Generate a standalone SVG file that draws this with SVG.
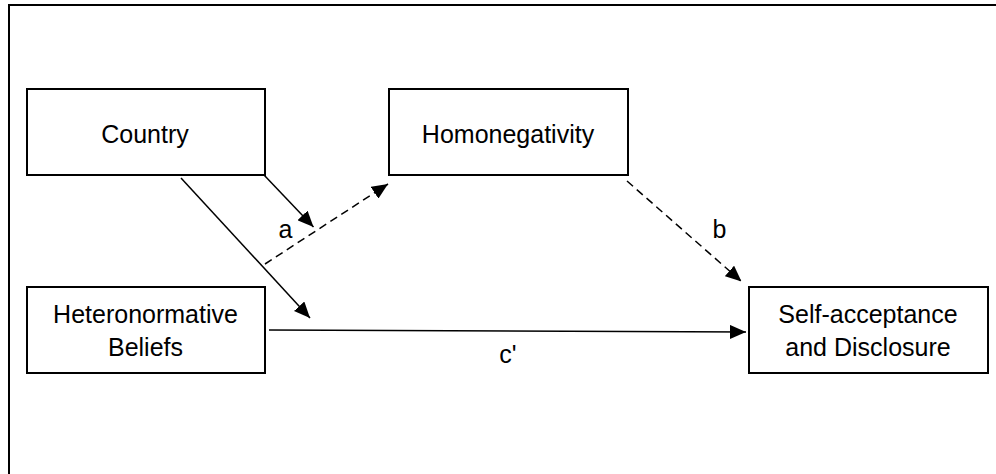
<svg xmlns="http://www.w3.org/2000/svg" width="996" height="474" viewBox="0 0 996 474">
<defs>
<style>
.box{fill:#fff;stroke:#000;stroke-width:2}
.t{font-family:"Liberation Sans",Arial,sans-serif;font-size:25px;fill:#000;text-anchor:middle}
.c{fill:none;stroke:#000;stroke-width:1.5}
.d{stroke-dasharray:8,5}
</style>
<marker id="ah" viewBox="0 0 16 14" refX="16" refY="7" markerWidth="16" markerHeight="14" markerUnits="userSpaceOnUse" orient="auto">
<path d="M0,0 L16,7 L0,14 z" fill="#000"/>
</marker>
</defs>
<rect width="996" height="474" fill="#fff"/>
<path d="M9,474 V5 H996" fill="none" stroke="#000" stroke-width="2"/>
<g id="connectors">
<line class="c" x1="264" y1="175" x2="313.5" y2="227" marker-end="url(#ah)"/>
<line class="c d" x1="265" y1="264" x2="388" y2="184" marker-end="url(#ah)"/>
<line class="c" x1="181" y1="178" x2="310" y2="318" marker-end="url(#ah)"/>
<line class="c" x1="269" y1="330" x2="746" y2="332" marker-end="url(#ah)"/>
<line class="c d" x1="627" y1="181" x2="741.5" y2="281.5" marker-end="url(#ah)"/>
<text class="t" x="285.5" y="237.5">a</text>
<text class="t" x="719.5" y="237.5">b</text>
<text class="t" x="508" y="363">c'</text>
</g>
<g id="country">
<rect class="box" x="27" y="89" width="238" height="86"/>
<text class="t" x="145" y="142.5">Country</text>
</g>
<g id="homonegativity">
<rect class="box" x="389" y="89" width="239" height="86"/>
<text class="t" x="508" y="142.5">Homonegativity</text>
</g>
<g id="heteronormative">
<rect class="box" x="27" y="287" width="238" height="86"/>
<text class="t" x="145.5" y="322.5">Heteronormative</text>
<text class="t" x="145.5" y="355.5">Beliefs</text>
</g>
<g id="selfacceptance">
<rect class="box" x="749" y="287" width="239" height="86"/>
<text class="t" x="868" y="322.5">Self-acceptance</text>
<text class="t" x="868" y="355.5">and Disclosure</text>
</g>
</svg>
